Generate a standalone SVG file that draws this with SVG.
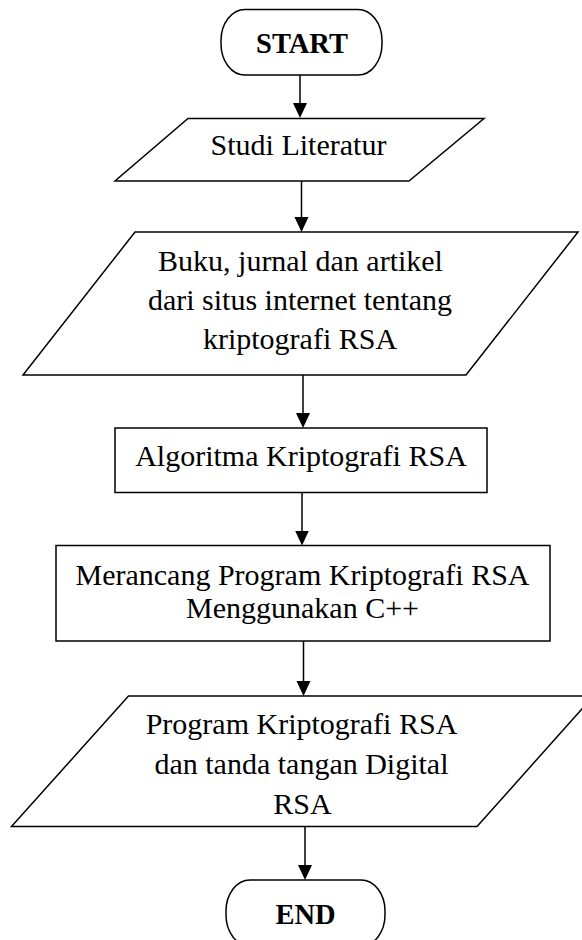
<svg xmlns="http://www.w3.org/2000/svg" width="582" height="940" viewBox="0 0 582 940">
  <style>
    .shape { fill: #ffffff; stroke: #000000; stroke-width: 1.5; }
    .label { font-family: "Liberation Serif", "Times New Roman", serif; font-size: 30px; fill: #000000; text-anchor: middle; }
    .term { font-family: "Liberation Serif", "Times New Roman", serif; font-size: 28.5px; font-weight: bold; fill: #000000; text-anchor: middle; }
    .flow { stroke: #000000; stroke-width: 1.5; fill: none; marker-end: url(#head); }
  </style>
  <defs>
    <marker id="head" markerUnits="userSpaceOnUse" markerWidth="16" markerHeight="15" refX="13" refY="7" orient="auto">
      <path d="M0,0 L15,7 L0,14 z" fill="#000000"/>
    </marker>
  </defs>
  <rect width="582" height="940" fill="#ffffff"/>

  <g id="connectors">
    <line class="flow" x1="300" y1="75" x2="300" y2="116"/>
    <line class="flow" x1="301.5" y1="181" x2="301.5" y2="230"/>
    <line class="flow" x1="303" y1="375" x2="303" y2="426"/>
    <line class="flow" x1="302" y1="492.5" x2="302" y2="543.5"/>
    <line class="flow" x1="303.5" y1="641" x2="303.5" y2="694"/>
    <line class="flow" x1="305" y1="826.5" x2="305" y2="878"/>
  </g>

  <g id="start">
    <rect class="shape" x="221" y="9.5" width="161" height="65.5" rx="24" ry="31"/>
    <text class="term" x="302" y="53">START</text>
  </g>

  <g id="studi-literatur">
    <polygon class="shape" points="188,118.5 484,118.5 409,181 115,181"/>
    <text class="label" x="298.5" y="155">Studi Literatur</text>
  </g>

  <g id="sumber-pustaka">
    <polygon class="shape" points="135,232 578,232 466,375 23,375"/>
    <text class="label" x="300.5" y="271">Buku, jurnal dan artikel</text>
    <text class="label" x="300" y="310">dari situs internet tentang</text>
    <text class="label" x="300" y="348.5">kriptografi RSA</text>
  </g>

  <g id="algoritma">
    <rect class="shape" x="115" y="428" width="372" height="64.5"/>
    <text class="label" x="301" y="466">Algoritma Kriptografi RSA</text>
  </g>

  <g id="merancang">
    <rect class="shape" x="56" y="545.5" width="494" height="95.5"/>
    <text class="label" x="302.5" y="585">Merancang Program Kriptografi RSA</text>
    <text class="label" x="302.5" y="618">Menggunakan C++</text>
  </g>

  <g id="hasil-program">
    <polygon class="shape" points="128.5,696 593.5,696 477,826.5 11.5,826.5"/>
    <text class="label" x="301.5" y="733.5">Program Kriptografi RSA</text>
    <text class="label" x="301.5" y="773.5">dan tanda tangan Digital</text>
    <text class="label" x="302.5" y="813.5">RSA</text>
  </g>

  <g id="end">
    <rect class="shape" x="226" y="880" width="159" height="66" rx="24" ry="31"/>
    <text class="term" x="305.5" y="923.5">END</text>
  </g>
</svg>
